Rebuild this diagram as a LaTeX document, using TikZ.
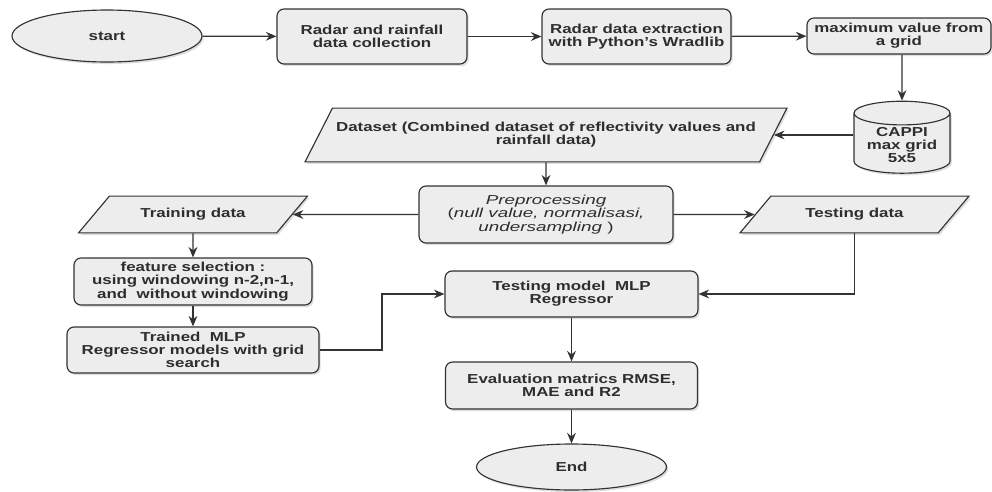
\documentclass[tikz,border=0pt]{standalone}
\usepackage{fontspec}
\setmainfont{Liberation Sans}[FakeStretch=1.3]
\usetikzlibrary{arrows.meta,shapes.geometric,shadows}
\definecolor{boxfill}{HTML}{EDEDED}
\definecolor{linegray}{HTML}{333333}
\tikzset{
    %Define standard arrow tip
    >={Stealth[length=6pt,width=5pt,inset=2pt]},
    %Define common look of all shapes
    base/.style={
           draw=linegray, line width=0.65pt,
           fill=boxfill,
           drop shadow={shadow xshift=1pt, shadow yshift=-1.2pt, opacity=0.25},
           inner sep=1pt,
           align=center,
           text=black!82,
           font=\fontsize{7.4}{7.5}\selectfont\bfseries},
    %Define style for boxes
    stepbox/.style={
           base,
           rectangle,
           rounded corners=0.14cm},
    terminal/.style={
           base,
           ellipse},
    iobox/.style={
           base,
           trapezium,
           trapezium stretches body,
           trapezium left angle=#1,
           trapezium right angle=180-#1},
    store/.style={
           base,
           cylinder,
           shape border rotate=90,
           aspect=0.32},
    % Define arrow style
    flow/.style={
           ->,
           draw=linegray,
           line width=0.65pt}
}
\begin{document}
\begin{tikzpicture}[x=0.02cm,y=-0.02cm]
\useasboundingbox (0,0) rectangle (992,491);

 %nodes
\node[terminal, minimum width=3.8cm, minimum height=1.04cm] (start) at (107,36) {start};
\node[stepbox, minimum width=3.8cm, minimum height=1.1cm] (collect) at (372,36.5) {Radar and rainfall\\data collection};
\node[stepbox, minimum width=3.78cm, minimum height=1.1cm] (extract) at (636.5,36.5) {Radar data extraction\\with Python's Wradlib};
\node[stepbox, minimum width=3.68cm, minimum height=0.72cm] (maxval) at (899,36) {maximum value from\\a grid};
\node[store, minimum width=1.92cm, minimum height=1.36cm] (cappi) at (902,145) {CAPPI\\max grid\\5x5};
\node[iobox=63, minimum width=9.64cm, inner ysep=8.1pt] (dataset) at (546,135) {Dataset (Combined dataset of reflectivity values and\\rainfall data)};
\node[stepbox, minimum width=5.08cm, minimum height=1.14cm, font=\fontsize{7.4}{7.5}\selectfont\addfontfeatures{FakeStretch=1.45}] (preproc) at (546,214.5) {\textit{Preprocessing}\\(\textit{null value, normalisasi,}\\\textit{undersampling} )};
\node[iobox=50, minimum width=4.58cm, inner ysep=7pt] (training) at (193,214.5) {Training data};
\node[iobox=50, minimum width=4.58cm, inner ysep=7pt] (testing) at (854.5,214.5) {Testing data};
\node[stepbox, minimum width=4.76cm, minimum height=0.94cm] (feature) at (193,281.5) {feature selection :\\using windowing n-2,n-1,\\and\ \ without windowing};
\node[stepbox, minimum width=5.04cm, minimum height=0.92cm] (trained) at (193,350) {Trained\ \ MLP\\Regressor models with grid\\search};
\node[stepbox, minimum width=5.06cm, minimum height=0.92cm] (testmodel) at (571.5,294) {Testing model\ \ MLP\\Regressor};
\node[stepbox, minimum width=5.04cm, minimum height=0.94cm] (eval) at (571.5,385.5) {Evaluation matrics RMSE,\\MAE and R2};
\node[terminal, minimum width=3.8cm, minimum height=0.92cm] (end) at (571.5,467) {End};
\coordinate (elbow) at (382,294);

 %connectors
\draw[flow] (start) -- (collect);
\draw[flow] (collect) -- (extract);
\draw[flow] (extract) -- (maxval);
\draw[flow] (maxval.south -| cappi.center) -- (cappi);
\draw[flow] (cappi.west |- dataset.east) -- (dataset.east);
\draw[flow] (dataset) -- (preproc);
\draw[flow] (preproc) -- (training);
\draw[flow] (preproc) -- (testing);
\draw[flow] (training) -- (feature);
\draw[flow] (feature) -- (trained);
\draw[flow] (trained.east) -| (elbow) -- (testmodel.west);
\draw[flow] (testing.south) |- (testmodel.east);
\draw[flow] (testmodel) -- (eval);
\draw[flow] (eval) -- (end);

\end{tikzpicture}
\end{document}
